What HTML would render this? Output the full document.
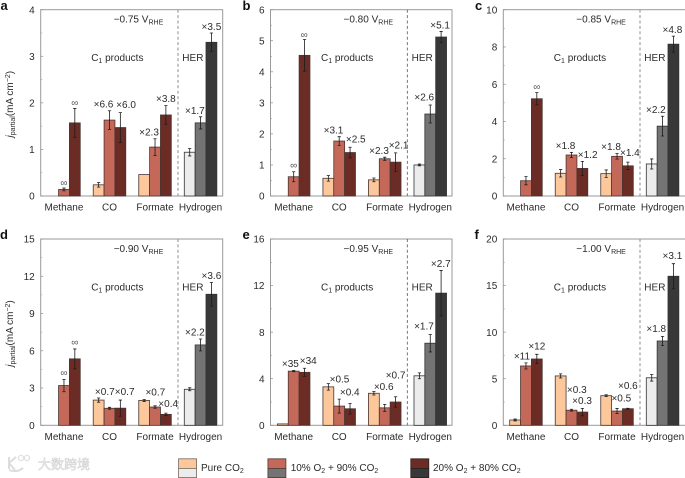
<!DOCTYPE html>
<html lang="en">
<head>
<meta charset="utf-8">
<title>Partial current density bar charts</title>
<style>
html,body{margin:0;padding:0;background:#fff;width:685px;height:478px;overflow:hidden}
svg{display:block;font-family:"Liberation Sans","Noto Sans CJK SC",sans-serif;filter:blur(.3px)}
text{fill:#2b2b2b}
</style>
</head>
<body>
<svg id="figure" xmlns="http://www.w3.org/2000/svg" width="685" height="478" viewBox="0 0 685 478">
  <g id="panels"></g>
  <g>
    <g>
      <rect x="178.6" y="458.8" width="18" height="9.6" fill="#fcc79a" stroke="#77695c" stroke-width="0.8"/>
      <rect x="178.6" y="468.4" width="18" height="9.2" fill="#ececec" stroke="#77695c" stroke-width="0.8"/>
      <text x="201" y="471" font-size="10">Pure CO<tspan font-size="7" dy="2">2</tspan></text>
    </g>
    <g>
      <rect x="267.9" y="458.8" width="18" height="9.6" fill="#c4695a" stroke="#553a34" stroke-width="0.8"/>
      <rect x="267.9" y="468.4" width="18" height="9.2" fill="#747474" stroke="#553a34" stroke-width="0.8"/>
      <text x="290.7" y="471" font-size="10">10% O<tspan font-size="7" dy="2">2</tspan><tspan dy="-2"> + 90% CO</tspan><tspan font-size="7" dy="2">2</tspan></text>
    </g>
    <g>
      <rect x="410.8" y="458.8" width="18" height="9.6" fill="#6b2c26" stroke="#2e1d1a" stroke-width="0.8"/>
      <rect x="410.8" y="468.4" width="18" height="9.2" fill="#383838" stroke="#2e1d1a" stroke-width="0.8"/>
      <text x="433" y="471" font-size="10">20% O<tspan font-size="7" dy="2">2</tspan><tspan dy="-2"> + 80% CO</tspan><tspan font-size="7" dy="2">2</tspan></text>
    </g>
  </g>
  <g>
    <path d="M9 457v12M9 463l7-6M9 463l6 7M9 470q8 3 14-2" fill="none" stroke="#dcdcdc" stroke-width="2"/>
    <circle cx="21" cy="458" r="2.6" fill="none" stroke="#dcdcdc"/>
    <circle cx="27" cy="458" r="2.6" fill="none" stroke="#dcdcdc"/>
    <text x="38" y="469" font-size="13" style="fill:#f3f3f3;stroke:#cfcfcf;stroke-width:.5">大数跨境</text>
  </g>
</svg>
<script>
// Shared data
const categories = ['Methane', 'CO', 'Formate', 'Hydrogen'];

// Panel a
const aTicks = [0, 1, 2, 3, 4];
const aValues = [[0, 0.14, 1.57], [0.24, 1.63, 1.47], [0.46, 1.05, 1.74], [0.94, 1.57, 3.3]];
const aErrors = [[0, 0.03, 0.31], [0.05, 0.2, 0.32], [0, 0.18, 0.2], [0.08, 0.13, 0.2]];
const aFolds = [['', '∞', '∞'], ['', '×6.6', '×6.0'], ['', '×2.3', '×3.8'], ['', '×1.7', '×3.5']];

// Panel b
const bTicks = [0, 1, 2, 3, 4, 5, 6];
const bValues = [[0, 0.62, 4.53], [0.57, 1.77, 1.4], [0.52, 1.2, 1.09], [1.0, 2.64, 5.12]];
const bErrors = [[0, 0.16, 0.51], [0.09, 0.14, 0.17], [0.06, 0.05, 0.3], [0.03, 0.29, 0.18]];
const bFolds = [['', '∞', '∞'], ['', '×3.1', '×2.5'], ['', '×2.3', '×2.1'], ['', '×2.6', '×5.1']];

// Panel c
const cTicks = [0, 2, 4, 6, 8, 10];
const cValues = [[0, 0.82, 5.22], [1.22, 2.2, 1.48], [1.2, 2.13, 1.62], [1.72, 3.75, 8.15]];
const cErrors = [[0, 0.22, 0.33], [0.2, 0.14, 0.38], [0.2, 0.15, 0.2], [0.27, 0.53, 0.43]];
const cFolds = [['', '', '∞'], ['', '×1.8', '×1.2'], ['', '×1.8', '×1.4'], ['', '×2.2', '×4.8']];

// Panel d
const dTicks = [0, 3, 6, 9, 12, 15];
const dValues = [[0, 3.2, 5.35], [2.03, 1.37, 1.38], [2.0, 1.47, 0.88], [2.9, 6.47, 10.55]];
const dErrors = [[0, 0.5, 0.8], [0.17, 0.08, 0.65], [0.08, 0.1, 0.1], [0.12, 0.48, 0.95]];
const dFolds = [['', '∞', '∞'], ['', '×0.7', '×0.7'], ['', '×0.7', '×0.4'], ['', '×2.2', '×3.6']];

// Panel e
const eTicks = [0, 4, 8, 12, 16];
const eValues = [[0.12, 4.65, 4.55], [3.3, 1.65, 1.42], [2.75, 1.5, 2.0], [4.25, 7.05, 11.35]];
const eErrors = [[0, 0.05, 0.35], [0.28, 0.6, 0.45], [0.15, 0.3, 0.45], [0.25, 0.75, 1.95]];
const eFolds = [['', '×35', '×34'], ['', '×0.5', '×0.4'], ['', '×0.6', '×0.7'], ['', '×1.7', '×2.7']];

// Panel f
const fTicks = [0, 5, 10, 15, 20];
const fValues = [[0.57, 6.37, 7.12], [5.3, 1.62, 1.42], [3.18, 1.53, 1.78], [5.1, 9.05, 16]];
const fErrors = [[0.1, 0.33, 0.5], [0.22, 0.1, 0.4], [0.1, 0.28, 0.05], [0.35, 0.5, 1.35]];
const fFolds = [['', '×11', '×12'], ['', '×0.3', '×0.3'], ['', '×0.5', '×0.6'], ['', '×1.8', '×3.1']];

// Label layout nudges (offsets from the default label anchor, separate from data)
const aNudge = [[[0,0],[0,1.5],[0,1]], [[0,0],[-6,0],[5.7,-1]], [[0,0],[-6,0],[0,0]], [[0,0],[-5.7,0.6],[0,0.3]]];
const bNudge = [[[0,0],[0,0],[-0.3,2]], [[0,0],[-5.7,0],[5.7,-1.3]], [[0,0],[-5.7,0],[3,-1]], [[0,0],[-6,-1.3],[-1,0.6]]];
const cNudge = [[[0,0],[0,0],[0,1]], [[0,0],[-6,0],[5.3,0]], [[0,0],[-6,0],[2,-2.7]], [[0,0],[-6.7,0],[-1,0]]];
const dNudge = [[[0,0],[0,0],[0,0]], [[0,0],[-4.7,-8.7],[4.3,-1.7]], [[0,0],[0.3,-7],[2.3,-2.7]], [[0,0],[-5.7,0],[0,0]]];
const eNudge = [[[0,0],[-3.3,0],[3.7,-1]], [[0,0],[0.3,-13],[-0.3,-4.7]], [[0,0],[-1,-10.7],[0,-14.7]], [[0,0],[-6.3,-1.7],[-0.3,0]]];
const fNudge = [[[0,0],[-4,0],[0,-1.3]], [[0,0],[5.3,-13],[-0.3,-0.7]], [[0,0],[4.3,-3.7],[0,-15.7]], [[0,0],[-6.3,-1],[-1,-1.3]]];

const SVG_NS = 'http://www.w3.org/2000/svg';
const warmColors = ['#fcc79a', '#c4695a', '#6b2c26'];
const grayColors = ['#ececec', '#747474', '#383838'];
const host = document.getElementById('panels');

function make(tag, attrs, parent, txt) {
  const el = document.createElementNS(SVG_NS, tag);
  for (const k in attrs) el.setAttribute(k, attrs[k]);
  if (txt !== undefined) el.textContent = txt;
  parent.appendChild(el);
  return el;
}

function drawPanel(p) {
  const top = p.top, bottom = p.top + 186.3;
  const yMax = p.ticks[p.ticks.length - 1];
  const yScale = function (v) { return bottom - (v / yMax) * (bottom - top); };
  const xBar = function (g, b) { return p.left + p.inset + g * 45.53 + b * 10.85; };

  const g = make('g', {}, host);
  
  

  const frame = make('rect', { x: p.left, y: top, width: p.width, height: bottom - top, fill: 'none', stroke: '#9a9a9a', 'stroke-width': 1 }, g);
  
  

  const panelLetter = make('text', { x: p.letterX, y: top + 0.2, 'font-size': 13, 'font-weight': 'bold', style: 'fill:#111' }, g, p.id);
  
  

  // y ticks and labels
  p.ticks.forEach(function (t, i) {
    const y = yScale(t);
    const label = make('text', { x: p.left - 6, y: y + 3.6, 'font-size': 10, 'text-anchor': 'end' }, g, t);
    
    
    make('line', { x1: p.left, x2: p.left + 2.5, y1: y, y2: y, stroke: '#8a8a8a', 'stroke-width': 0.7 }, g);
    if (i < p.ticks.length - 1) {
      const my = yScale((t + p.ticks[i + 1]) / 2);
      make('line', { x1: p.left, x2: p.left + 1.5, y1: my, y2: my, stroke: '#9a9a9a', 'stroke-width': 0.6 }, g);
    }
  });

  // bars, error bars and fold labels
  categories.forEach(function (cat, gi) {
    const colors = gi === 3 ? grayColors : warmColors;
    p.values[gi].forEach(function (v, bi) {
      const x = xBar(gi, bi), y = yScale(v);
      if (v > 0) {
        const bar = make('rect', { x: x, y: y, width: 10.85, height: bottom - y, fill: colors[bi], stroke: gi === 3 ? '#333' : '#4a3530', 'stroke-width': 0.8 }, g);
        
        
      }
      const err = p.errors[gi][bi];
      const cx = x + 5.42;
      if (err > 0) {
        const hi = yScale(v + err), lo = yScale(v - err);
        const eb = make('path', { d: 'M' + cx + ' ' + hi + 'V' + lo + 'M' + (cx - 1.6) + ' ' + hi + 'H' + (cx + 1.6) + 'M' + (cx - 1.6) + ' ' + lo + 'H' + (cx + 1.6), fill: 'none', stroke: '#1c1c1c', 'stroke-width': 0.8 }, g);
        
        
      }
      const fold = p.folds[gi][bi];
      if (fold) {
        const n = p.nudge[gi][bi];
        const isInf = fold === '∞';
        const fl = make('text', { x: cx + n[0], y: yScale(v + err) - 7 + n[1] + 3.6, 'font-size': 10, 'text-anchor': 'middle' }, g, fold);
        if (isInf) fl.setAttribute('style', 'fill:#555');
        
        
      }
    });
    const catLabel = make('text', { x: xBar(gi, 1) + 5.42, y: bottom + 14.6, 'font-size': 10, 'text-anchor': 'middle' }, g, cat);
    
    
  });

  // HER divider
  const dx = p.left + p.divider;
  const div = make('line', { x1: dx, x2: dx, y1: top, y2: bottom, stroke: p.dividerColor, 'stroke-width': p.dividerWidth, 'stroke-dasharray': '3 2.4' }, g);
  
  

  // annotations
  const volt = make('text', { x: p.left + 73, y: top + 13, 'font-size': 10 }, g);
  
  
  make('tspan', {}, volt, p.potential + ' V');
  make('tspan', { 'font-size': 7, dy: 2 }, volt, 'RHE');

  const c1 = make('text', { x: p.left + 50.5, y: top + 51.5, 'font-size': 10 }, g);
  
  
  make('tspan', {}, c1, 'C');
  make('tspan', { 'font-size': 7, dy: 2 }, c1, '1');
  make('tspan', { dy: -2 }, c1, ' products');

  const her = make('text', { x: dx + 4.3, y: top + 51.5, 'font-size': 10 }, g, 'HER');
  
  

  if (p.yTitle) {
    const cy = top + 94.5;
    const title = make('text', { transform: 'translate(13 ' + cy + ') rotate(-90)', 'font-size': 10, 'text-anchor': 'middle' }, g);
    
    
    make('tspan', { 'font-style': 'italic' }, title, 'j');
    make('tspan', { 'font-size': 7, dy: 2 }, title, 'partial');
    make('tspan', { dy: -2 }, title, '(mA cm');
    make('tspan', { 'font-size': 7, dy: -3 }, title, '−2');
    make('tspan', { dy: 3 }, title, ')');
  }
}

drawPanel({ id: 'a', left: 40.7, top: 9.7, width: 182, inset: 7, divider: 137.3, dividerColor: '#a0a0a0', dividerWidth: 1.2, letterX: 0.5, potential: '−0.75', ticks: aTicks, values: aValues, errors: aErrors, folds: aFolds, nudge: aNudge, yTitle: true });
drawPanel({ id: 'b', left: 270.5, top: 9.7, width: 181.5, inset: 6.9, divider: 136.8, dividerColor: '#555', dividerWidth: 0.8, letterX: 242.5, potential: '−0.80', ticks: bTicks, values: bValues, errors: bErrors, folds: bFolds, nudge: bNudge });
drawPanel({ id: 'c', left: 503.3, top: 9.7, width: 183, inset: 6.4, divider: 136.7, dividerColor: '#a0a0a0', dividerWidth: 1.2, letterX: 475, potential: '−0.85', ticks: cTicks, values: cValues, errors: cErrors, folds: cFolds, nudge: cNudge });
drawPanel({ id: 'd', left: 40.7, top: 239, width: 182, inset: 7, divider: 137.3, dividerColor: '#a0a0a0', dividerWidth: 1.2, letterX: 0, potential: '−0.90', ticks: dTicks, values: dValues, errors: dErrors, folds: dFolds, nudge: dNudge, yTitle: true });
drawPanel({ id: 'e', left: 270.5, top: 239, width: 181.5, inset: 6.9, divider: 136.8, dividerColor: '#555', dividerWidth: 0.8, letterX: 242.5, potential: '−0.95', ticks: eTicks, values: eValues, errors: eErrors, folds: eFolds, nudge: eNudge });
drawPanel({ id: 'f', left: 503.3, top: 239, width: 183, inset: 6.4, divider: 136.7, dividerColor: '#a0a0a0', dividerWidth: 1.2, letterX: 474.5, potential: '−1.00', ticks: fTicks, values: fValues, errors: fErrors, folds: fFolds, nudge: fNudge });
</script>
</body>
</html>
